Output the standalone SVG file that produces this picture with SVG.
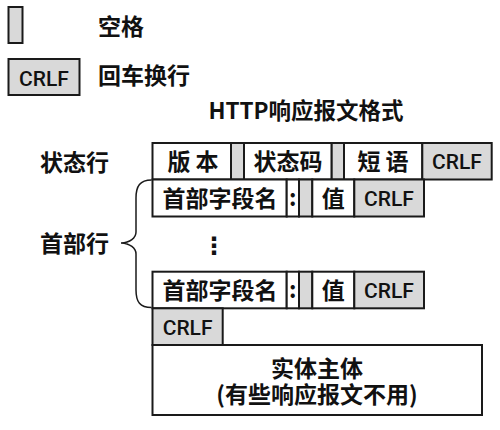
<svg xmlns="http://www.w3.org/2000/svg" width="500" height="430" viewBox="0 0 500 430">
<style>
.b{stroke:#1a1a1a;stroke-width:2;fill:#fff}
.g{stroke:#1a1a1a;stroke-width:2;fill:#d9d9d9}
.t{font-family:"Noto Sans CJK SC","Noto Sans",sans-serif;font-weight:700;font-size:23px;fill:#111;text-anchor:middle}
.l{font-family:"Noto Sans CJK SC","Noto Sans",sans-serif;font-weight:700;font-size:23px;fill:#111}
.c{font-family:Roboto,"Liberation Sans",sans-serif;font-weight:500;font-size:21px;fill:#111;text-anchor:middle}
.br{fill:none;stroke:#1a1a1a;stroke-width:1.5}
</style>
<rect width="500" height="430" fill="#fff"/>
<g id="legend-space">
<rect class="g" x="8.5" y="7" width="14" height="36"/>
<text class="l" x="98" y="34.5">空格</text>
</g>
<g id="legend-crlf">
<rect class="g" x="8.5" y="59" width="71" height="36"/>
<text class="c" x="44" y="85.5">CRLF</text>
<text class="l" x="98" y="83.5">回车换行</text>
</g>
<g id="title">
<text class="t" x="306" y="118.5" style="font-size:22.5px">HTTP响应报文格式</text>
</g>
<g id="label-status">
<text class="l" x="40" y="171">状态行</text>
</g>
<g id="label-header">
<text class="l" x="40" y="251.5">首部行</text>
</g>
<g id="status-line">
<rect class="b" x="152.5" y="143" width="78.5" height="36.5"/>
<rect class="g" x="231" y="143" width="13" height="36.5"/>
<rect class="b" x="244" y="143" width="87.7" height="36.5"/>
<rect class="g" x="331.7" y="143" width="12.3" height="36.5"/>
<rect class="b" x="344" y="143" width="78.3" height="36.5"/>
<rect class="g" x="422.3" y="143" width="69.4" height="36.5"/>
<text class="t" x="193" y="170">版 本</text>
<text class="t" x="288" y="170">状态码</text>
<text class="t" x="383" y="170">短 语</text>
<text class="c" x="457" y="169">CRLF</text>
</g>
<g id="header-line-1">
<rect class="b" x="152.5" y="179.5" width="134.2" height="37"/>
<rect class="b" x="286.7" y="179.5" width="12.3" height="37"/>
<rect class="g" x="299" y="179.5" width="13.3" height="37"/>
<rect class="b" x="312.3" y="179.5" width="42" height="37"/>
<rect class="g" x="354.3" y="179.5" width="69.7" height="37"/>
<text class="t" x="220" y="207">首部字段名</text>
<text class="t" x="292.8" y="205.5">:</text>
<text class="t" x="333.3" y="207">值</text>
<text class="c" x="389" y="206">CRLF</text>
</g>
<g id="ellipsis">
<text class="t" x="214" y="254" style="font-family:'DejaVu Sans',sans-serif;font-weight:700;font-size:24px">⋮</text>
</g>
<g id="header-line-2">
<rect class="b" x="152.5" y="271.7" width="134.2" height="36.6"/>
<rect class="b" x="286.7" y="271.7" width="12.3" height="36.6"/>
<rect class="g" x="299" y="271.7" width="13.3" height="36.6"/>
<rect class="b" x="312.3" y="271.7" width="42" height="36.6"/>
<rect class="g" x="354.3" y="271.7" width="69.7" height="36.6"/>
<text class="t" x="220" y="299">首部字段名</text>
<text class="t" x="292.8" y="297.5">:</text>
<text class="t" x="333.3" y="299">值</text>
<text class="c" x="389" y="298">CRLF</text>
</g>
<g id="blank-line">
<rect class="g" x="152.5" y="308.3" width="70.2" height="36.7"/>
<text class="c" x="187.6" y="334.5">CRLF</text>
</g>
<g id="body">
<rect class="b" x="152.5" y="345" width="329.5" height="70"/>
<text class="t" x="317" y="377">实体主体<tspan x="317" dy="26">(有些响应报文不用)</tspan></text>
</g>
<g id="connectors">
<path class="br" d="M151.5,180 C140,180 136,186 136,198 L136,232 C136,238 130,242.5 121,243 C130,243.5 136,248 136,254 L136,290 C136,302 140,307.5 151.5,307.5"/>
</g>
</svg>
